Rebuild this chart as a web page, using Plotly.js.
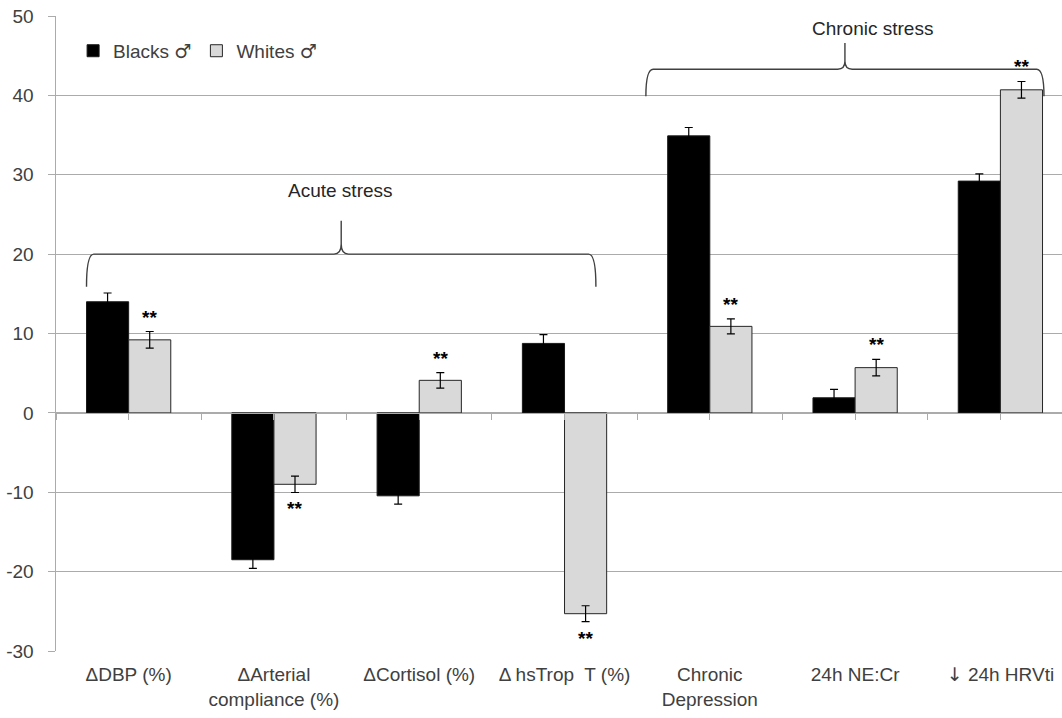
<!DOCTYPE html>
<html>
<head>
<meta charset="utf-8">
<script src="https://cdn.plot.ly/plotly-3.0.1.min.js"></script>
<style>html,body{margin:0;padding:0;background:#fff;overflow:hidden}</style>
</head>
<body>
<div id="chart" style="width:1062px;height:718px"></div>
<script>
// ---- data ----
const categories = ['ΔDBP (%)', 'ΔArterial<br>compliance (%)', 'ΔCortisol (%)', 'Δ hsTrop  T (%)', 'Chronic<br>Depression', '24h NE:Cr', '↓ 24h HRVti'];
const blacks = [14.0, -18.5, -10.45, 8.75, 34.9, 1.9, 29.2];
const blacksErr = [1.1, 1.1, 1.05, 1.1, 1.05, 1.05, 0.9];
const whites = [9.2, -9.0, 4.1, -25.3, 10.9, 5.7, 40.7];
const whitesErr = [1.05, 1.03, 0.97, 1.0, 0.95, 1.03, 1.05];
const seriesNames = ['Blacks', 'Whites'];
const seriesSymbol = '♂';
const sigMarks = ['**', '**', '**', '**', '**', '**', '**'];   // significance on Whites bars
const yTickVals = [-30, -20, -10, 0, 10, 20, 30, 40, 50];
const yTickText = ['-30', '-20', '-10', '0', '10', '20', '30', '40', '50'];
// group braces and labels
const groups = [
  {label: 'Acute stress', x0: -0.29, x1: 3.216, yEnd: 15.9, yH: 20.0, yTip: 24.2, labelX: 1.46, labelY: 28.0},
  {label: 'Chronic stress', x0: 3.56, x1: 6.30, yEnd: 39.9, yH: 43.3, yTip: 46.6, labelX: 5.12, labelY: 48.4}
];

const idx = categories.map((c, i) => i);
const FONT = 'Liberation Sans, Arial, DejaVu Sans, sans-serif';
const TXT = '#404040';
const GRID = '#ababab';
const dj = s => '<span style="font-family:DejaVu Sans;">' + s + '</span>';
const symSpan = ' ' + dj(seriesSymbol);
const catLabels = categories.map(c => c.replace('↓', dj('↓')));

const traces = [
  {type: 'bar', name: seriesNames[0] + symSpan, x: idx, y: blacks,
   marker: {color: '#000000', line: {color: '#1a1a1a', width: 1}},
   error_y: {type: 'data', array: blacksErr, color: '#000', thickness: 1.2, width: 4},
   hoverinfo: 'skip'},
  {type: 'bar', name: seriesNames[1] + symSpan, x: idx, y: whites,
   marker: {color: '#d9d9d9', line: {color: '#262626', width: 1}},
   error_y: {type: 'data', array: whitesErr, color: '#000', thickness: 1.2, width: 4},
   hoverinfo: 'skip'},
  {type: 'scatter', x: [], y: [], xaxis: 'x2', yaxis: 'y', showlegend: false, hoverinfo: 'skip'}
];

const halfTicks = [];
for (let v = -0.5; v <= categories.length - 0.5; v += 0.5) halfTicks.push(v);

const annotations = [];
whites.forEach((v, i) => {
  const pos = v >= 0;
  annotations.push({
    x: i, y: pos ? v + whitesErr[i] : v - whitesErr[i], xref: 'x', yref: 'y',
    text: '<b>' + sigMarks[i] + '</b>', showarrow: false,
    xshift: 21, yshift: pos ? 2 : -4,
    yanchor: pos ? 'bottom' : 'top',
    font: {family: FONT, size: 19, color: '#000'}
  });
});
const shapes = [];
groups.forEach(g => {
  annotations.push({x: g.labelX, y: g.labelY, xref: 'x', yref: 'y', text: g.label, showarrow: false,
    font: {family: FONT, size: 19, color: '#262626'}});
  const tip = (g.x0 + g.x1) / 2, dx = 0.05, h1 = (g.yTip - g.yH) * 0.3;
  const p = `M ${g.x0},${g.yEnd} Q ${g.x0},${g.yH} ${g.x0 + dx},${g.yH} ` +
            `L ${tip - dx},${g.yH} Q ${tip},${g.yH} ${tip},${g.yH + h1} L ${tip},${g.yTip} ` +
            `L ${tip},${g.yH + h1} Q ${tip},${g.yH} ${tip + dx},${g.yH} ` +
            `L ${g.x1 - dx},${g.yH} Q ${g.x1},${g.yH} ${g.x1},${g.yEnd}`;
  shapes.push({type: 'path', xref: 'x', yref: 'y', path: p, line: {color: '#404040', width: 1.4}});
});

const layout = {
  width: 1062, height: 718,
  margin: {l: 56, r: 0, t: 16, b: 67},
  paper_bgcolor: '#fff', plot_bgcolor: '#fff',
  font: {family: FONT, size: 19, color: TXT},
  barmode: 'group', bargap: 0.42, bargroupgap: 0,
  showlegend: true,
  legend: {orientation: 'h', x: 0.017, y: 0.975, xanchor: 'left', yanchor: 'top',
           font: {family: FONT, size: 19, color: TXT}, bgcolor: 'rgba(0,0,0,0)', itemwidth: 30},
  xaxis: {range: [-0.5, 6.424], tickvals: idx, ticktext: catLabels, ticks: '',
          ticklabelstandoff: 10,
          showgrid: false, zeroline: false, showline: false, fixedrange: true,
          tickfont: {family: FONT, size: 19, color: TXT}},
  xaxis2: {overlaying: 'x', anchor: 'free', position: 0.375, range: [-0.5, 6.424],
           tickvals: halfTicks, ticks: 'outside', ticklen: 6, tickcolor: GRID, tickwidth: 1,
           showticklabels: false, showgrid: false, zeroline: false,
           showline: true, linecolor: GRID, linewidth: 1},
  yaxis: {range: [-30, 50], tickvals: yTickVals, ticktext: yTickText.map(t => t + '\u00a0\u00a0'),
          showgrid: true, gridcolor: GRID, gridwidth: 1,
          zeroline: true, zerolinecolor: GRID, zerolinewidth: 1,
          showline: true, linecolor: GRID, linewidth: 1,
          ticks: 'outside', ticklen: 7, tickcolor: GRID,
          tickfont: {family: FONT, size: 19, color: TXT}},
  annotations: annotations,
  shapes: shapes
};

Plotly.newPlot('chart', traces, layout, {displayModeBar: false, staticPlot: true});
</script>
</body>
</html>
